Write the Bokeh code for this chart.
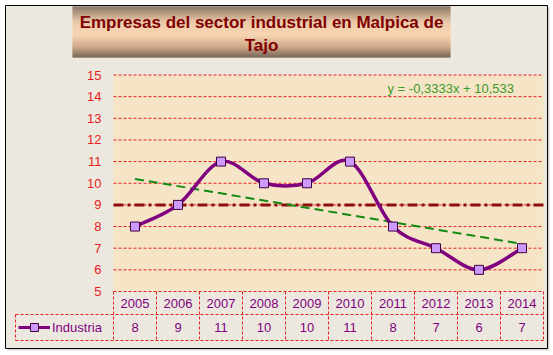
import numpy as np
from bokeh.plotting import figure
from bokeh.models import Range1d, Legend, LegendItem
from bokeh.core.properties import value
from bokeh.embed import file_html
from bokeh.resources import INLINE

# ---------------- data ----------------
title_lines = ["Empresas del sector industrial en Malpica de", "Tajo"]
years = ["2005", "2006", "2007", "2008", "2009", "2010", "2011", "2012", "2013", "2014"]
industria = [8, 9, 11, 10, 10, 11, 8, 7, 6, 7]
series_name = "Industria"
y_ticks = [5, 6, 7, 8, 9, 10, 11, 12, 13, 14, 15]
avg_value = 9
trend_slope = -0.3333
trend_intercept = 10.533
trend_label = "y = -0,3333x + 10,533"

# ---------------- layout (pixels) ----------------
W, H = 553, 355
PX_L, PX_R = 113, 543
PX_TOP, PX_BOT = 74.5, 291
YMIN, YMAX = 5, 15
n = len(years)
ux = (PX_R - PX_L) / n
uy = (PX_BOT - PX_TOP) / (YMAX - YMIN)
x_start = 0.5 - PX_L / ux
x_end = x_start + W / ux
y_end = YMAX + PX_TOP / uy
y_start = y_end - H / uy


def dx(px):
    return x_start + px / ux


def dy(py):
    return y_end - py / uy


FONT = value("Liberation Sans")
PURPLE = "#800080"
RED = "#E82020"

p = figure(width=W, height=H, x_range=Range1d(x_start, x_end), y_range=Range1d(y_start, y_end),
           x_axis_type=None, y_axis_type=None, toolbar_location=None, output_backend="svg",
           min_border=0, outline_line_color=None, background_fill_color="white",
           border_fill_color="white")

# chart area background and border
p.quad(left=[dx(7)], right=[dx(549)], top=[dy(7)], bottom=[dy(350)], fill_color="#B0ABA2",
       line_color=None, fill_alpha=0.5)
p.quad(left=[dx(5)], right=[dx(547)], top=[dy(5)], bottom=[dy(348)], fill_color="#EDE8DF",
       line_color="black", line_width=1)

# title box with vertical gradient
stops = [(0.0, (0x6E, 0x55, 0x42)), (0.3, (0xEA, 0xBE, 0x96)), (0.55, (0xFD, 0xD0, 0xA4)),
         (0.8, (0xC6, 0x94, 0x6E)), (1.0, (0x55, 0x40, 0x30))]
TB_L, TB_R, TB_T, TB_B = 72, 450, 6, 57
rows = np.arange(TB_T, TB_B)
cols = []
for r in rows:
    t = (r - TB_T) / (TB_B - TB_T - 1)
    for (t0, c0), (t1, c1) in zip(stops[:-1], stops[1:]):
        if t0 <= t <= t1:
            f = (t - t0) / (t1 - t0)
            c = tuple(int(round(a + (b - a) * f)) for a, b in zip(c0, c1))
            cols.append("#%02x%02x%02x" % c)
            break
p.quad(left=[dx(TB_L)] * len(rows), right=[dx(TB_R)] * len(rows),
       top=[dy(r) for r in rows], bottom=[dy(r + 1.05) for r in rows],
       fill_color=cols, line_color=None)
p.text(x=[dx((TB_L + TB_R) / 2)] * 2, y=[dy(22), dy(45)], text=title_lines,
       text_align="center", text_baseline="middle", text_color="#800000",
       text_font=FONT, text_font_style="bold", text_font_size="17px")

# plot area background
p.quad(left=[0.5], right=[n + 0.5], top=[YMAX], bottom=[YMIN], fill_color="#F5E5C6",
       line_color=None)

# horizontal gridlines
grid_y = [t for t in y_ticks if t > YMIN]
p.segment(x0=[0.5] * len(grid_y), x1=[n + 0.5] * len(grid_y), y0=grid_y, y1=grid_y,
          line_color=RED, line_width=1, line_dash="3 2")

# y tick labels
p.text(x=[dx(101)] * len(y_ticks), y=y_ticks, text=[str(t) for t in y_ticks],
       text_align="right", text_baseline="middle", text_color=RED, text_font=FONT,
       text_font_size="13px")

# average line
p.segment(x0=[0.5], x1=[n + 0.5], y0=[avg_value], y1=[avg_value], line_color="#8E0E0E",
          line_width=3, line_dash="10 4 3 4")

# trend line
xs = np.arange(1, n + 1)
p.line(x=[xs[0], xs[-1]], y=[trend_slope * xs[0] + trend_intercept, trend_slope * xs[-1] + trend_intercept],
       line_color="#138A13", line_width=2, line_dash="9 5")
p.text(x=[dx(387)], y=[dy(88)], text=[trend_label], text_align="left", text_baseline="middle",
       text_color="#3A9A2A", text_font=FONT, text_font_size="13px")

# smoothed series (Catmull-Rom style bezier through the data points)
yv = np.array(industria, dtype=float)
P = np.column_stack([xs, yv])
Pm = np.vstack([P[0], P, P[-1]])
x0, y0, x1, y1, cx0, cy0, cx1, cy1 = [], [], [], [], [], [], [], []
for i in range(n - 1):
    a, b, c, d = Pm[i], Pm[i + 1], Pm[i + 2], Pm[i + 3]
    c0 = b + (c - a) / 6
    c1 = c - (d - b) / 6
    x0.append(b[0]); y0.append(b[1]); x1.append(c[0]); y1.append(c[1])
    cx0.append(c0[0]); cy0.append(c0[1]); cx1.append(c1[0]); cy1.append(c1[1])
p.bezier(x0=x0, y0=y0, x1=x1, y1=y1, cx0=cx0, cy0=cy0, cx1=cx1, cy1=cy1,
         line_color=PURPLE, line_width=3.5)
# single-point line: draws nothing in the plot, only serves as the legend's line sample
leg_line = p.line(x=[xs[0]], y=[industria[0]], line_color=PURPLE, line_width=3)
pts = p.scatter(x=xs, y=industria, marker="square", size=9, fill_color="#CC99FF",
                line_color="#400040", line_width=1)

# data table
T_TOP, T_MID, T_BOT = YMIN, dy(314), dy(340)
LEG_L = dx(15)
hx0 = [0.5, LEG_L, LEG_L]
hx1 = [n + 0.5] * 3
hy = [T_TOP, T_MID, T_BOT]
p.segment(x0=hx0, x1=hx1, y0=hy, y1=hy, line_color=RED, line_width=1, line_dash="3 2")
vx = [i + 0.5 for i in range(n + 1)]
p.segment(x0=vx + [LEG_L], x1=vx + [LEG_L], y0=[T_TOP] * (n + 1) + [T_MID],
          y1=[T_BOT] * (n + 2), line_color=RED, line_width=1, line_dash="3 2")
p.text(x=xs, y=[(T_TOP + T_MID) / 2] * n, text=years, text_align="center",
       text_baseline="middle", text_color=PURPLE, text_font=FONT, text_font_size="13px")
p.text(x=xs, y=[(T_MID + T_BOT) / 2] * n, text=[str(v) for v in industria],
       text_align="center", text_baseline="middle", text_color=PURPLE, text_font=FONT,
       text_font_size="13px")

legend = Legend(items=[LegendItem(label=series_name, renderers=[leg_line, pts])],
                location=(18, 18), orientation="vertical", padding=0, margin=0, spacing=0,
                glyph_width=32, glyph_height=20, label_height=20, label_standoff=2,
                border_line_color=None, background_fill_alpha=0,
                label_text_color=PURPLE, label_text_font="Liberation Sans",
                label_text_font_size="13px")
p.add_layout(legend, "center")

open("out.html", "w").write(file_html(p, INLINE))
